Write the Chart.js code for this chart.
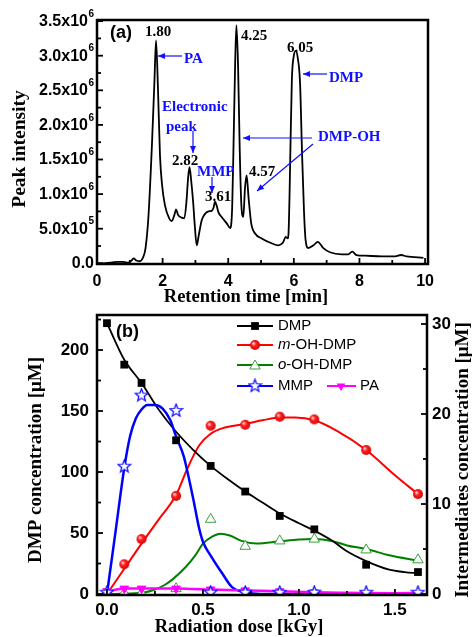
<!DOCTYPE html>
<html><head><meta charset="utf-8">
<script src="https://cdn.jsdelivr.net/npm/chart.js@4.4.0/dist/chart.umd.min.js"></script>
<style>
html,body{margin:0;padding:0;background:#fff;width:472px;height:637px;overflow:hidden}
canvas{position:absolute;left:0}
#c1{top:0}
#c2{top:305px}
</style></head><body>
<canvas id="c1" width="472" height="305"></canvas>
<canvas id="c2" width="472" height="332"></canvas>
<script>
// ================= Panel (a): chromatogram =================
const chromTime = [0.0,0.2,0.4,0.6,0.8,0.95,1.05,1.12,1.2,1.3,1.4,1.48,1.57,1.67,1.75,1.80,1.86,1.92,1.98,2.07,2.2,2.28,2.36,2.41,2.47,2.58,2.66,2.72,2.78,2.82,2.87,2.93,2.98,3.04,3.1,3.19,3.27,3.40,3.50,3.55,3.60,3.65,3.70,3.80,3.95,4.06,4.12,4.16,4.21,4.25,4.30,4.35,4.40,4.46,4.51,4.56,4.62,4.70,4.82,5.02,5.32,5.53,5.67,5.75,5.82,5.84,5.87,5.89,5.94,6.0,6.06,6.12,6.19,6.25,6.31,6.36,6.44,6.6,6.73,6.9,7.1,7.46,7.66,7.78,7.91,8.17,8.68,9.09,9.27,9.44,9.95];
const chromIntensity = [0.0,0.0,0.01,0.02,0.02,0.01,0.04,0.07,0.04,0.03,0.08,0.22,0.69,1.66,2.62,3.22,2.5,1.56,1.15,0.84,0.65,0.61,0.70,0.78,0.70,0.66,0.65,0.85,1.25,1.39,1.20,0.89,0.55,0.26,0.40,0.62,0.70,0.75,0.76,0.80,0.89,0.83,0.74,0.67,0.58,0.51,0.8,1.66,2.86,3.44,2.86,1.66,0.85,0.67,1.08,1.27,0.95,0.58,0.43,0.36,0.29,0.26,0.30,0.38,0.36,0.45,1.0,1.5,2.65,3.0,3.07,2.97,2.6,1.6,0.75,0.33,0.22,0.26,0.31,0.22,0.16,0.13,0.13,0.17,0.12,0.11,0.10,0.10,0.12,0.10,0.08]; // x10^6
const yTicksA = [0,0.5,1.0,1.5,2.0,2.5,3.0,3.5];
const yTickMainA = ['0.0','5.0x10','1.0x10','1.5x10','2.0x10','2.5x10','3.0x10','3.5x10'];
const yTickExpA = ['','5','6','6','6','6','6','6'];
const xTicksA = [0,2,4,6,8,10];
const peakNames = ['1.80','4.25','6.05','2.82','3.61','4.57'];
const compoundNames = ['PA','Electronic','peak','MMP','DMP','DMP-OH'];

// ================= Panel (b): concentrations =================
const dose = [0,0.09,0.18,0.36,0.54,0.72,0.9,1.08,1.35,1.62];
const dmp = [222,188,173,126,105,84,64,53,24,18];
const mOHDMP = [0,3.3,6.1,10.9,18.7,18.8,19.7,19.4,16.0,11.1];
const oOHDMP = [0.1,0.1,0.1,0.6,8.3,5.3,5.9,6.1,4.9,3.8];
const mmp = [0.2,14.2,22.1,20.4,0.2,0.2,0.2,0.2,0.2,0.2];
const pa = [0.3,0.6,0.6,0.6,0.5,0.4,0.3,0.2,0.1,0.1];
// fitted curves
const dmpFitX = [0,0.09,0.18,0.27,0.36,0.45,0.54,0.63,0.72,0.81,0.9,1.0,1.08,1.17,1.25,1.35,1.47,1.55,1.62];
const dmpFitY = [222,192,173,151,133,118,105,94,84,75,66,58,52,44,35,27,20,18,17];
const mOHFitX = [0,0.09,0.18,0.27,0.36,0.42,0.48,0.54,0.6,0.72,0.81,0.9,0.98,1.08,1.2,1.35,1.5,1.62];
const mOHFitY = [0,2.8,5.6,8.3,11.0,14.0,16.5,17.8,18.4,18.9,19.3,19.6,19.6,19.3,18.1,16.0,13.2,11.1];
const oOHFitX = [0,0.1,0.2,0.25,0.3,0.34,0.41,0.46,0.5,0.55,0.59,0.64,0.7,0.78,0.9,1.0,1.08,1.17,1.25,1.35,1.47,1.62];
const oOHFitY = [0,0.05,0.2,0.5,1.0,1.6,3.0,4.3,5.6,6.4,6.7,6.5,5.9,5.6,5.85,6.05,6.1,5.9,5.4,5.0,4.3,3.7];
const mmpFitX = [0,0.045,0.09,0.12,0.15,0.18,0.21,0.25,0.29,0.33,0.36,0.40,0.42,0.45,0.48,0.5,0.545,0.6,0.65,0.72,0.8,1.0,1.62];
const mmpFitY = [0,7,14,17.5,19.5,20.5,21.0,21.0,20.6,19.3,17.5,15.3,13.5,10.5,7.3,5.8,4.1,2.3,0.8,0.2,0,0,0];
const xTicksB = [0,0.5,1.0,1.5];
const xTickLabelsB = ['0.0','0.5','1.0','1.5'];
const yTicksBL = [0,50,100,150,200];
const yTicksBR = [0,10,20,30];
const legendNames = ['DMP','-OH-DMP','-OH-DMP','MMP','PA'];

// ---------- helpers ----------
const SANS = '"Liberation Sans", Arial, sans-serif';
const SERIF = '"Liberation Serif", "Times New Roman", serif';
const BLUE = '#1010ff';

function xy(xs, ys){ return xs.map((x,i)=>({x:x,y:ys[i]})); }

function makeStar(){
  const c=document.createElement('canvas'); c.width=15;c.height=15;
  const g=c.getContext('2d'); g.beginPath();
  for(let i=0;i<10;i++){const r=i%2?2.8:6.6; const a=-Math.PI/2+i*Math.PI/5; const px=7.5+r*Math.cos(a), py=7.8+r*Math.sin(a); i?g.lineTo(px,py):g.moveTo(px,py);}
  g.closePath(); g.fillStyle='#fff'; g.fill(); g.strokeStyle='#0000ff'; g.lineWidth=1.2; g.stroke(); return c;
}
function makeBall(){
  const c=document.createElement('canvas'); c.width=12;c.height=12;
  const g=c.getContext('2d'); const gr=g.createRadialGradient(4.3,4.3,0.5,6,6,5.5);
  gr.addColorStop(0,'#ffd0d0'); gr.addColorStop(0.35,'#ff2020'); gr.addColorStop(1,'#d00000');
  g.beginPath(); g.arc(6,6,5,0,Math.PI*2); g.fillStyle=gr; g.fill(); return c;
}
const starImg = makeStar(), ballImg = makeBall();

function arrow(ctx,x1,y1,x2,y2){
  ctx.save(); ctx.strokeStyle=BLUE; ctx.fillStyle=BLUE; ctx.lineWidth=1.2;
  ctx.beginPath(); ctx.moveTo(x1,y1); ctx.lineTo(x2,y2); ctx.stroke();
  const a=Math.atan2(y2-y1,x2-x1), L=7, W=3;
  ctx.beginPath(); ctx.moveTo(x2,y2);
  ctx.lineTo(x2-L*Math.cos(a)+W*Math.sin(a), y2-L*Math.sin(a)-W*Math.cos(a));
  ctx.lineTo(x2-L*Math.cos(a)-W*Math.sin(a), y2-L*Math.sin(a)+W*Math.cos(a));
  ctx.closePath(); ctx.fill(); ctx.restore();
}
function text(ctx,s,x,y,font,color,align){
  ctx.font=font; ctx.fillStyle=color||'#000'; ctx.textAlign=align||'center'; ctx.textBaseline='middle'; ctx.fillText(s,x,y);
}
function vtext(ctx,s,x,y,font){
  ctx.save(); ctx.translate(x,y); ctx.rotate(-Math.PI/2); text(ctx,s,0,0,font,'#000','center'); ctx.restore();
}
function frame(ctx,a){ ctx.save(); ctx.strokeStyle='#000'; ctx.lineWidth=2.5; ctx.strokeRect(a.left,a.top,a.right-a.left,a.bottom-a.top); ctx.restore(); }
function ticksX(ctx,sc,a,vals,len){ ctx.save(); ctx.strokeStyle='#000'; ctx.lineWidth=1.8; vals.forEach(v=>{const x=sc.getPixelForValue(v); ctx.beginPath(); ctx.moveTo(x,a.bottom); ctx.lineTo(x,a.bottom-len); ctx.stroke();}); ctx.restore(); }
function ticksY(ctx,sc,x0,dir,vals,len){ ctx.save(); ctx.strokeStyle='#000'; ctx.lineWidth=1.8; vals.forEach(v=>{const y=sc.getPixelForValue(v); ctx.beginPath(); ctx.moveTo(x0,y); ctx.lineTo(x0+dir*len,y); ctx.stroke();}); ctx.restore(); }

// ---------- panel (a) ----------
const panelA = { id:'panelA', afterDraw(chart){
  const ctx=chart.ctx, a=chart.chartArea, sx=chart.scales.x, sy=chart.scales.y;
  frame(ctx,a);
  ticksY(ctx,sy,a.left,1,yTicksA,6);
  ticksY(ctx,sy,a.left,1,yTicksA.slice(0,-1).map(v=>v+0.25),4);
  ticksX(ctx,sx,a,xTicksA,6);
  ticksX(ctx,sx,a,[1,3,5,7,9],4);
  // y tick labels with superscript
  yTicksA.forEach((v,i)=>{
    const y=sy.getPixelForValue(v); let xr=94;
    if(yTickExpA[i]){ ctx.font='bold 10px '+SANS; const w=ctx.measureText(yTickExpA[i]).width; text(ctx,yTickExpA[i],xr,y-7,'bold 10px '+SANS,'#000','right'); xr-=w+0.5; }
    text(ctx,yTickMainA[i],xr,y+0.5,'bold 16px '+SANS,'#000','right');
  });
  xTicksA.forEach(v=>text(ctx,String(v),sx.getPixelForValue(v),282,'bold 16px '+SANS));
  text(ctx,'Retention time [min]',246,297,'bold 18.5px '+SERIF);
  vtext(ctx,'Peak intensity',20,149,'bold 19.5px '+SERIF);
  text(ctx,'(a)',121,33,'bold 18px '+SANS);
  const pf='bold 15px '+SERIF;
  text(ctx,peakNames[0],158,32,pf); text(ctx,peakNames[1],254,36,pf); text(ctx,peakNames[2],300,48,pf);
  text(ctx,peakNames[3],185,161,pf); text(ctx,peakNames[4],218,197,pf); text(ctx,peakNames[5],262,172,pf);
  text(ctx,compoundNames[0],184,59,pf,BLUE,'left');
  text(ctx,compoundNames[1],162,107,pf,BLUE,'left');
  text(ctx,compoundNames[2],166,127,pf,BLUE,'left');
  text(ctx,compoundNames[3],197,172,pf,BLUE,'left');
  text(ctx,compoundNames[4],329,78,pf,BLUE,'left');
  text(ctx,compoundNames[5],318,137,pf,BLUE,'left');
  arrow(ctx,182,56,158,56);
  arrow(ctx,193,131,193,153);
  arrow(ctx,212,177,212,193);
  arrow(ctx,327,74,303,74);
  arrow(ctx,312,138,243,138);
  arrow(ctx,313,144,257,191);
}};

new Chart(document.getElementById('c1'),{
  type:'line',
  data:{datasets:[{data:xy(chromTime,chromIntensity),borderColor:'#000',borderWidth:1.8,pointRadius:0,cubicInterpolationMode:'monotone',fill:false}]},
  options:{responsive:false,animation:false,devicePixelRatio:1,events:[],
    layout:{padding:{left:97,right:44,top:20,bottom:41},autoPadding:false},
    plugins:{legend:{display:false},tooltip:{enabled:false}},
    scales:{x:{type:'linear',min:0,max:10.09,display:false},y:{type:'linear',min:-0.01,max:3.516,display:false}}},
  plugins:[panelA]
});

// ---------- panel (b) ----------
function drawMarker(ctx,kind,x,y){
  ctx.save();
  if(kind==='rect'){ ctx.fillStyle='#000'; ctx.fillRect(x-3.9,y-3.9,7.8,7.8); }
  else if(kind==='ball'){ ctx.drawImage(ballImg,x-6,y-6); }
  else if(kind==='tri'||kind==='dtri'){
    const r=kind==='tri'?6:5, rot=kind==='tri'?0:Math.PI; ctx.beginPath();
    for(let k=0;k<3;k++){const ang=rot+k*2*Math.PI/3; const px=x+Math.sin(ang)*r, py=y-Math.cos(ang)*r; k?ctx.lineTo(px,py):ctx.moveTo(px,py);}
    ctx.closePath();
    if(kind==='tri'){ctx.fillStyle='#fff';ctx.fill();ctx.strokeStyle='#3c9f3c';ctx.lineWidth=1;ctx.stroke();}
    else{ctx.fillStyle='#ff00ff';ctx.fill();}
  } else if(kind==='star'){ ctx.drawImage(starImg,x-7.5,y-7.8); }
  ctx.restore();
}
function legLine(ctx,x1,x2,y,color){ ctx.save(); ctx.strokeStyle=color; ctx.lineWidth=2; ctx.beginPath(); ctx.moveTo(x1,y); ctx.lineTo(x2,y); ctx.stroke(); ctx.restore(); }

const panelB = { id:'panelB', afterDraw(chart){
  const ctx=chart.ctx, a=chart.chartArea, sx=chart.scales.x, yl=chart.scales.yL, yr=chart.scales.yR;
  frame(ctx,a);
  ticksX(ctx,sx,a,xTicksB,6); ticksX(ctx,sx,a,[0.25,0.75,1.25],4);
  ticksY(ctx,yl,a.left,1,yTicksBL,6); ticksY(ctx,yl,a.left,1,[25,75,125,175,225],4);
  ticksY(ctx,yr,a.right,-1,yTicksBR,6); ticksY(ctx,yr,a.right,-1,[5,15,25],4);
  const tf='bold 17px '+SANS;
  xTicksB.forEach((v,i)=>text(ctx,xTickLabelsB[i],sx.getPixelForValue(v),305,tf));
  yTicksBL.forEach(v=>text(ctx,String(v),89,yl.getPixelForValue(v)+0.5,tf,'#000','right'));
  yTicksBR.forEach(v=>text(ctx,String(v),432,yr.getPixelForValue(v)+0.5,tf,'#000','left'));
  text(ctx,'Radiation dose [kGy]',239,322,'bold 18.5px '+SERIF);
  vtext(ctx,'DMP concentration [\u03bcM]',36,155,'bold 19px '+SERIF);
  vtext(ctx,'Intermediates concentration [\u03bcM]',463,155,'bold 19px '+SERIF);
  text(ctx,'(b)',127.5,27,'bold 18px '+SANS);
  // legend
  const lf='15px '+SANS, rows=[21,40,60,81];
  legLine(ctx,237,273,rows[0],'#000'); drawMarker(ctx,'rect',255,rows[0]); text(ctx,legendNames[0],278,rows[0],lf,'#000','left');
  legLine(ctx,237,273,rows[1],'#ff0000'); drawMarker(ctx,'ball',255,rows[1]);
  ctx.font='italic 15px '+SANS; const wm=ctx.measureText('m').width; text(ctx,'m',278,rows[1],'italic 15px '+SANS,'#000','left'); text(ctx,legendNames[1],278+wm,rows[1],lf,'#000','left');
  legLine(ctx,237,273,rows[2],'#008000'); drawMarker(ctx,'tri',255,rows[2]+1);
  ctx.font='italic 15px '+SANS; const wo=ctx.measureText('o').width; text(ctx,'o',278,rows[2],'italic 15px '+SANS,'#000','left'); text(ctx,legendNames[2],278+wo,rows[2],lf,'#000','left');
  legLine(ctx,237,273,rows[3],'#0000ff'); drawMarker(ctx,'star',255,rows[3]); text(ctx,legendNames[3],278,rows[3],lf,'#000','left');
  legLine(ctx,327,356,rows[3],'#ff00ff'); drawMarker(ctx,'dtri',341,rows[3]); text(ctx,legendNames[4],360,rows[3],lf,'#000','left');
}};

const fitCommon = {pointRadius:0,fill:false,cubicInterpolationMode:'monotone'};
new Chart(document.getElementById('c2'),{
  type:'line',
  data:{datasets:[
    {data:xy(dose,mmp),yAxisID:'yR',showLine:false,pointStyle:starImg,pointRadius:7},
    {data:xy(dose,pa),yAxisID:'yR',borderColor:'#ff00ff',borderWidth:2.5,pointStyle:'triangle',rotation:180,pointRadius:5,pointBackgroundColor:'#ff00ff',pointBorderColor:'#ff00ff',pointBorderWidth:1,tension:0.3},
    {data:xy(dose,dmp),yAxisID:'yL',showLine:false,pointStyle:'rect',pointRadius:5.5,pointBackgroundColor:'#000',pointBorderColor:'#000',pointBorderWidth:0},
    {data:xy(dose,mOHDMP),yAxisID:'yR',showLine:false,pointStyle:ballImg,pointRadius:6},
    {data:xy(dose,oOHDMP),yAxisID:'yR',showLine:false,pointStyle:'triangle',pointRadius:6,pointBackgroundColor:'#fff',pointBorderColor:'#3c9f3c',pointBorderWidth:1},
    Object.assign({data:xy(mmpFitX,mmpFitY),yAxisID:'yR',borderColor:'#0000ff',borderWidth:2.5},fitCommon),
    Object.assign({data:xy(dmpFitX,dmpFitY),yAxisID:'yL',borderColor:'#000',borderWidth:1.8},fitCommon),
    Object.assign({data:xy(mOHFitX,mOHFitY),yAxisID:'yR',borderColor:'#ff0000',borderWidth:2},fitCommon),
    Object.assign({data:xy(oOHFitX,oOHFitY),yAxisID:'yR',borderColor:'#008000',borderWidth:2},fitCommon)
  ]},
  options:{responsive:false,animation:false,devicePixelRatio:1,events:[],
    layout:{padding:{left:97,right:45,top:10,bottom:42},autoPadding:false},
    plugins:{legend:{display:false},tooltip:{enabled:false}},
    scales:{x:{type:'linear',min:-0.052,max:1.667,display:false},
      yL:{type:'linear',position:'left',min:-0.8,max:228.7,display:false},
      yR:{type:'linear',position:'right',min:-0.11,max:31.0,display:false}}},
  plugins:[panelB]
});
</script>
</body></html>
